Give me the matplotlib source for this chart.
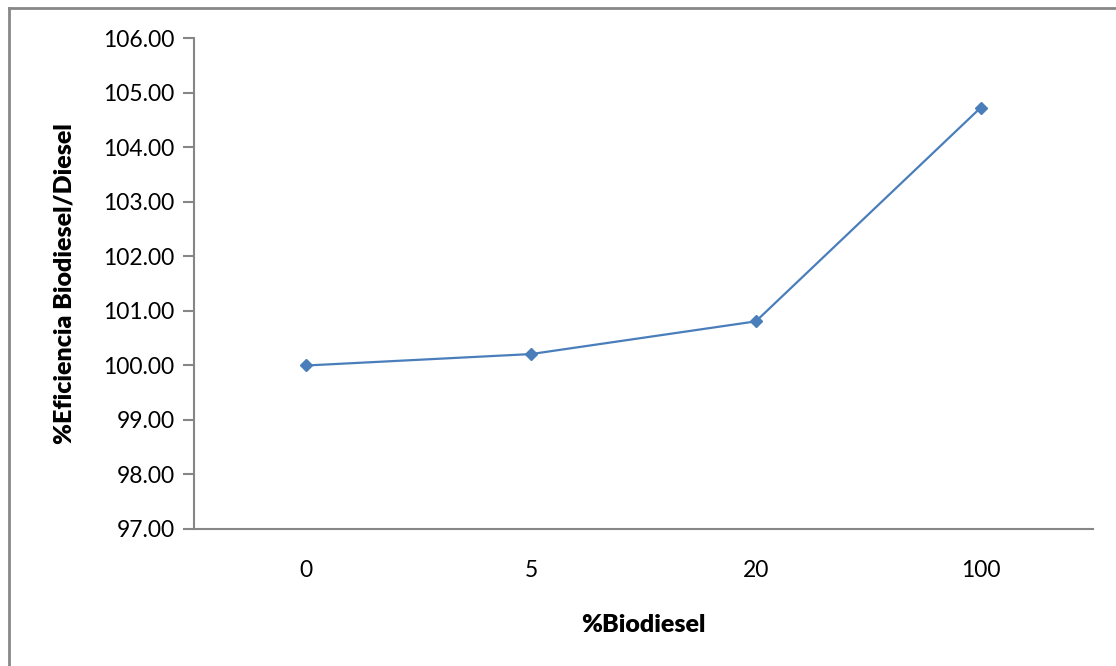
import matplotlib
matplotlib.use("Agg")
from matplotlib import pyplot as plt
from matplotlib.lines import Line2D

categories = ["0", "5", "20", "100"]
efficiency = [100.00, 100.21, 100.81, 104.73]
y_ticks = [97, 98, 99, 100, 101, 102, 103, 104, 105, 106]

plt.rcParams['font.family'] = ['Lato', 'DejaVu Sans']

fig = plt.figure(figsize=[11.16, 6.66], dpi=100)
ax = fig.add_axes([194 / 1116, 1 - 529 / 666, 899 / 1116, 490.5 / 666])

x = list(range(len(categories)))
ax.plot(x, efficiency, color="#4A7EBB", linewidth=1.6,
        marker="D", markersize=6, markerfacecolor="#4A7EBB", markeredgecolor="#4A7EBB")

ax.set_xlim(-0.5, len(categories) - 0.5)
ax.set_ylim(97, 106)
ax.set_xticks(x)
ax.set_xticklabels(categories)
ax.set_yticks(y_ticks)
ax.set_yticklabels(["%.2f" % v for v in y_ticks])

for side in ["top", "right"]:
    ax.spines[side].set_visible(False)
for side in ["left", "bottom"]:
    ax.spines[side].set_color("#868686")
    ax.spines[side].set_linewidth(1.5)

ax.tick_params(axis="y", direction="out", length=8, width=1.5, color="#868686",
               labelsize=16.5, pad=6)
ax.tick_params(axis="x", length=0, labelsize=16.5, pad=22)

ax.set_xlabel("%Biodiesel", fontsize=18, fontweight="heavy", labelpad=24)
ax.set_ylabel("%Eficiencia Biodiesel/Diesel", fontsize=18, fontweight="heavy", labelpad=20)

# outer chart frame (only left and top edges visible)
fig.add_artist(Line2D([8.5 / 1116, 8.5 / 1116], [0, 1 - 8 / 666], color="#888888",
                      linewidth=2, transform=fig.transFigure))
fig.add_artist(Line2D([8.5 / 1116, 1], [1 - 8 / 666, 1 - 8 / 666], color="#888888",
                      linewidth=2, transform=fig.transFigure))

fig.savefig("out.png", dpi=100)
